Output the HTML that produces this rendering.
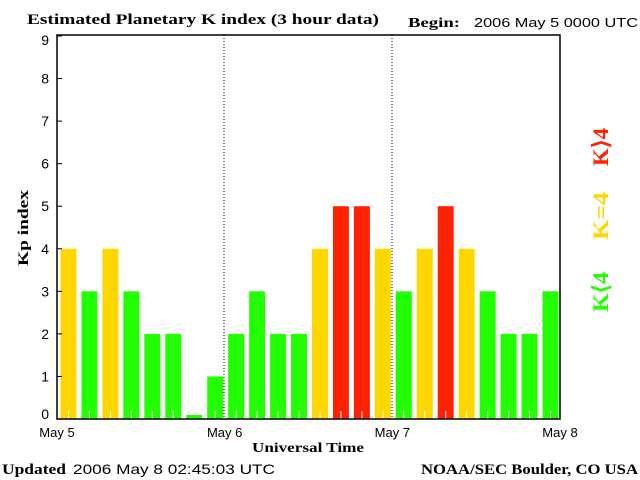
<!DOCTYPE html>
<html><head><meta charset="utf-8"><style>
body{margin:0;background:#fff;}
svg{display:block;font-family:"Liberation Sans",sans-serif;}
.serif{font-family:"Liberation Serif",serif;font-weight:bold;}
</style></head><body>
<svg id="chart" width="640" height="480">
<text x="27" y="24" class="serif" font-size="15" textLength="352" lengthAdjust="spacingAndGlyphs">Estimated Planetary K index (3 hour data)</text>
<text x="408" y="27" class="serif" font-size="14" textLength="52" lengthAdjust="spacingAndGlyphs">Begin:</text>
<text x="474" y="27" font-size="13" textLength="164" lengthAdjust="spacingAndGlyphs">2006 May 5 0000 UTC</text>
<g id="bars"></g>
<line x1="224" y1="35" x2="224" y2="419" stroke="#000" stroke-dasharray="1,2"/>
<line x1="392" y1="35" x2="392" y2="419" stroke="#000" stroke-dasharray="1,2"/>
<rect x="57" y="35" width="503" height="384" fill="none" stroke="#000" stroke-width="1.5"/>
<g id="yticks"></g>
<g id="xlabels"></g>
<text x="28" y="228" class="serif" font-size="15" transform="rotate(-90 28 228)" text-anchor="middle" textLength="76" lengthAdjust="spacingAndGlyphs">Kp index</text>
<text x="308" y="452" class="serif" font-size="14" text-anchor="middle" textLength="112" lengthAdjust="spacingAndGlyphs">Universal Time</text>
<text x="2" y="474" class="serif" font-size="15" textLength="64" lengthAdjust="spacingAndGlyphs">Updated</text>
<text x="73" y="474" font-size="14" textLength="202" lengthAdjust="spacingAndGlyphs">2006 May  8 02:45:03 UTC</text>
<text x="421" y="474" class="serif" font-size="15" textLength="217" lengthAdjust="spacingAndGlyphs">NOAA/SEC Boulder, CO USA</text>
<text x="608" y="147" class="serif" font-size="22" fill="#ff2200" text-anchor="middle" transform="rotate(-90 608 147)" textLength="38" lengthAdjust="spacingAndGlyphs">K⟩4</text>
<text x="608" y="216" class="serif" font-size="22" fill="#ffd700" text-anchor="middle" transform="rotate(-90 608 216)" textLength="48" lengthAdjust="spacingAndGlyphs">K=4</text>
<text x="608" y="292" class="serif" font-size="22" fill="#22ff00" text-anchor="middle" transform="rotate(-90 608 292)" textLength="40" lengthAdjust="spacingAndGlyphs">K⟨4</text>
</svg>
<script>
const kpValues=[4,3,4,3,2,2,0,1,2,3,2,2,4,5,5,4,3,4,5,4,3,2,2,3];
const yTicks=[0,1,2,3,4,5,6,7,8,9];
const dayLabels=["May 5","May 6","May 7","May 8"];
const NS="http://www.w3.org/2000/svg";
const X0=57,X1=560,Y0=419,YT=36;
const yScale=v=>Y0-(Y0-YT)*v/9;
const slot=(X1-X0)/kpValues.length;
const xScale=i=>X0+i*slot;
const bars=document.getElementById('bars');
kpValues.forEach((v,i)=>{
  const r=document.createElementNS(NS,'rect');
  const col=v<4?'#22ff00':(v===4?'#ffd700':'#ff2200');
  const top=v===0?Y0-4:yScale(v);
  r.setAttribute('x',xScale(i)+3.5);r.setAttribute('width',slot-5);
  r.setAttribute('y',top);r.setAttribute('height',Y0-top);r.setAttribute('fill',col);
  
  
  bars.appendChild(r);
  if(v>0){const t=document.createElementNS(NS,'line');
  const cx=xScale(i)+slot/2+1;
  t.setAttribute('x1',cx);t.setAttribute('x2',cx);t.setAttribute('y1',Y0-8);t.setAttribute('y2',Y0);
  t.setAttribute('stroke','#fff');
  
  
  bars.appendChild(t);}
});
const yt=document.getElementById('yticks');
yTicks.forEach(v=>{
  const y=yScale(v);
  const l=document.createElementNS(NS,'line');
  l.setAttribute('x1',X0);l.setAttribute('x2',X0+5);l.setAttribute('y1',y);l.setAttribute('y2',y);l.setAttribute('stroke','#000');
  
  
  yt.appendChild(l);
  const t=document.createElementNS(NS,'text');
  t.setAttribute('x',49);t.setAttribute('y',y+(v===0?0:5)+(v===9?4:0));t.setAttribute('text-anchor','end');t.setAttribute('font-size','14');
  t.textContent=v;
  
  
  yt.appendChild(t);
});
const xl=document.getElementById('xlabels');
dayLabels.forEach((d,i)=>{
  const t=document.createElementNS(NS,'text');
  t.setAttribute('x',X0+i*(X1-X0)/3);t.setAttribute('y',437);t.setAttribute('text-anchor','middle');t.setAttribute('font-size','13');
  t.textContent=d;
  
  
  xl.appendChild(t);
});
</script>
</body></html>
